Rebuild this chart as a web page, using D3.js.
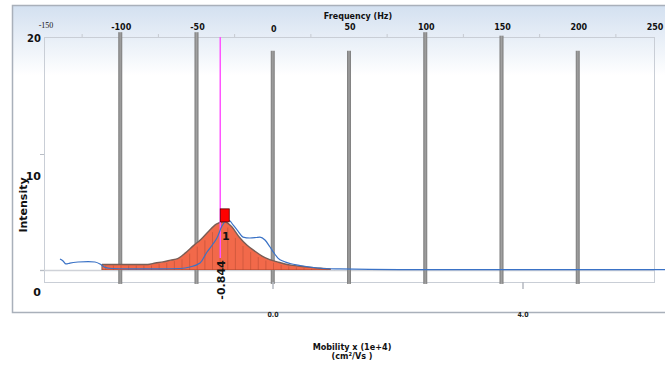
<!DOCTYPE html>
<html><head><meta charset="utf-8">
<script src="https://cdn.jsdelivr.net/npm/d3@7"></script>
<style>html,body{margin:0;padding:0;background:#fff;}svg{display:block;}</style>
</head><body>
<svg id="chart" width="665" height="367"></svg>
<script>
// ---- data ----
const freqTicks = [-150, -100, -50, 0, 50, 100, 150, 200, 250];
const freqMinorTicks = [-125, -75, -25, 25, 75, 125, 175, 225];
const intensityTicks = [0, 10, 20];
const mobilityTicks = [0.0, 4.0];
// gray frequency bars: position (Hz), top and bottom (intensity units)
const barFreq   = [-100, -50, 0, 50, 100, 150, 200];
const barTop    = [20.5, 20.5, 18.9, 18.9, 20.5, 20.2, 18.9];
const barBottom = [-1.2, -1.2, -1.2, -1.2, -1.2, -1.2, -1.2];
// blue measured trace (Hz, intensity)
const traceFreq = [-139.5,-137.5,-135.6,-133,-127.7,-121,-116.6,-113.3,-110,-105.4,-93.6,-74,-60.8,-54.3,-47.7,-43.1,-39.2,-36.6,-33.3,-30,-28,-26,-22.8,-19.5,-15,-11,-8.4,-5.1,-1.8,0.8,3.4,7.4,11.3,17.9,24.4,33,44,83,260];
const traceInt  = [0.95,0.78,0.52,0.6,0.69,0.73,0.69,0.52,0.22,0.13,0.09,0.09,0.13,0.26,0.6,1.55,2.24,2.76,3.79,4.31,4.22,3.88,3.36,2.84,2.76,2.8,2.84,2.59,1.98,1.47,1.03,0.73,0.56,0.39,0.26,0.13,0.09,0.04,0.04];
// orange fitted peak, histogram bins (Hz, intensity)
const fitFreq = [-112,-107,-102,-97,-92,-87,-82,-77,-72,-67,-62,-57,-52,-47,-42,-37,-32,-27,-22,-17,-12,-7,-2,3,8,13,18,23,28,33,38];
const fitInt  = [0.47,0.47,0.47,0.47,0.47,0.47,0.47,0.6,0.7,0.85,1.0,1.5,2.1,2.65,3.35,3.95,4.18,3.75,2.85,2.15,1.65,1.2,0.9,0.7,0.52,0.4,0.32,0.25,0.18,0.13,0.08];
// peak marker
const peakMobility = [-0.844];
const peakIntensity = [4.15];
const peakLabels = ["1"];
const peakValueLabels = ["-0.844"];

// ---- layout ----
const svg = d3.select("#chart");
const L = 44, R = 654, T = 37, B = 282;
const x = d3.scaleLinear().domain([-150, 250]).range([L, R]);
const y = d3.scaleLinear().domain([0, 20]).range([270, 38]);
const xm = d3.scaleLinear().domain([0, 4]).range([273, 523]);
const bold = "DejaVu Sans, Verdana, sans-serif";

// panel background
const defs = svg.append("defs");
const g = defs.append("linearGradient").attr("id","bg").attr("x1",0).attr("y1",0).attr("x2",0).attr("y2",1);
g.append("stop").attr("offset","0%").attr("stop-color","#d3e0f0");
g.append("stop").attr("offset","100%").attr("stop-color","#ffffff");
svg.append("rect").attr("x",12.5).attr("y",5.5).attr("width",680).attr("height",70)
  .attr("fill","url(#bg)");
svg.append("path").attr("d",`M700,5.5H12.5V312.5H700`).attr("fill","none").attr("stroke","#a9b0ba").attr("stroke-width",1.5);
defs.append("clipPath").attr("id","clipR").append("rect").attr("x",0).attr("y",0).attr("width",665).attr("height",367);

// plot frame
svg.append("rect").attr("x",L+0.5).attr("y",T+0.5).attr("width",R-L).attr("height",B-T)
  .attr("fill","none").attr("stroke","#c9ced6").attr("stroke-width",1);
// baseline at 0
svg.append("line").attr("x1",40).attr("x2",R).attr("y1",y(0)+0.5).attr("y2",y(0)+0.5)
  .attr("stroke","#cfd2d8").attr("stroke-width",1.5);
// y ticks
svg.selectAll(".ytk").data([0,10]).join("line")
  .attr("x1",40).attr("x2",L).attr("y1",d=>Math.round(y(d))+0.5).attr("y2",d=>Math.round(y(d))+0.5)
  .attr("stroke","#b8bdc5");
// y labels (offset as in the reference)
const yLabPos = {20: 42, 10: 180, 0: 296};
const yLabSize = {20: 10, 10: 11, 0: 11};
svg.selectAll(".ylab").data(intensityTicks).join("text")
  .attr("x",41).attr("y",d=>yLabPos[d]).attr("text-anchor","end")
  .attr("font-family",bold).attr("font-weight","bold").attr("font-size",d=>yLabSize[d]+"px").attr("fill","#111")
  .text(d=>d);
svg.append("text").attr("transform","translate(26.5,205) rotate(-90)").attr("text-anchor","middle")
  .attr("font-family",bold).attr("font-weight","bold").attr("font-size","11px").attr("fill","#111").text("Intensity");

// top frequency axis
svg.selectAll(".ftk").data(freqMinorTicks).join("line")
  .attr("x1",d=>x(d)).attr("x2",d=>x(d)).attr("y1",34).attr("y2",T)
  .attr("stroke","#c6cad1");
svg.selectAll(".flab").data(freqTicks).join("text")
  .attr("x",d=>x(d)+(d===-150?2:1)).attr("y",d=>d===0?32:d===-150?28:30).attr("text-anchor","middle")
  .attr("font-family",d=>d===-150?"Liberation Serif, serif":bold)
  .attr("font-weight",d=>d===-150?"normal":"bold")
  .attr("font-size",d=>d===-150?"8px":"8px").attr("fill","#111")
  .text(d=>d);
svg.append("text").attr("x",358).attr("y",19).attr("text-anchor","middle")
  .attr("font-family",bold).attr("font-weight","bold").attr("font-size","8px").attr("fill","#111")
  .text("Frequency (Hz)");

// gray bars
const bg = defs.append("linearGradient").attr("id","barg").attr("x1",0).attr("x2",1).attr("y1",0).attr("y2",0);
bg.append("stop").attr("offset","0%").attr("stop-color","#7a7a7a");
bg.append("stop").attr("offset","50%").attr("stop-color","#a0a0a0");
bg.append("stop").attr("offset","100%").attr("stop-color","#7a7a7a");
svg.selectAll(".bar").data(barFreq).join("rect")
  .attr("x",d=>x(d)-2).attr("width",4)
  .attr("y",(d,i)=>y(barTop[i])).attr("height",(d,i)=>y(barBottom[i])-y(barTop[i]))
  .attr("fill","url(#barg)");

// bottom mobility axis
svg.selectAll(".mtk").data(mobilityTicks).join("line")
  .attr("x1",d=>xm(d)).attr("x2",d=>xm(d)).attr("y1",B).attr("y2",B+7)
  .attr("stroke","#b5b9c0").attr("stroke-width",1.5);
svg.selectAll(".mlab").data(mobilityTicks).join("text")
  .attr("x",d=>xm(d)).attr("y",317).attr("text-anchor","middle")
  .attr("font-family","DejaVu Sans Condensed, DejaVu Sans, sans-serif").attr("font-weight","bold")
  .attr("font-size","7px").attr("fill","#222").text(d=>d.toFixed(1));
const mt = svg.append("text").attr("text-anchor","middle")
  .attr("font-family","DejaVu Sans Condensed, DejaVu Sans, sans-serif").attr("font-weight","bold")
  .attr("font-size","9px").attr("fill","#111");
mt.append("tspan").attr("x",352).attr("y",350).text("Mobility x (1e+4)");
mt.append("tspan").attr("x",352).attr("y",359).text("(cm²/Vs )");

// orange fitted peak
const area = d3.area().x((d,i)=>x(fitFreq[i])).y0(y(0)).y1((d,i)=>y(fitInt[i])).curve(d3.curveMonotoneX);
svg.append("path").datum(fitInt).attr("d",area).attr("fill","#f2694a");
svg.selectAll(".stripe").data(fitFreq).join("line")
  .attr("x1",d=>x(d)+3.8).attr("x2",d=>x(d)+3.8)
  .attr("y1",y(0)).attr("y2",(d,i)=>y(Math.min(fitInt[i], fitInt[Math.min(i+1,fitInt.length-1)]))+1)
  .attr("stroke","#a8452e").attr("stroke-opacity",0.55).attr("stroke-width",0.8);
const topLine = d3.line().x((d,i)=>x(fitFreq[i])).y((d,i)=>y(fitInt[i])).curve(d3.curveMonotoneX);
svg.append("path").datum(fitInt).attr("d",topLine).attr("fill","none")
  .attr("stroke","#7a5d55").attr("stroke-width",1.4);
svg.append("line").attr("x1",x(fitFreq[0])).attr("x2",x(fitFreq[0])).attr("y1",y(0)).attr("y2",y(fitInt[0]))
  .attr("stroke","#7a5d55").attr("stroke-width",1);
svg.append("line").attr("x1",x(fitFreq[0])).attr("x2",x(fitFreq[fitFreq.length-1])).attr("y1",y(0)-0.5).attr("y2",y(0)-0.5)
  .attr("stroke","#a8452e").attr("stroke-opacity",0.5).attr("stroke-width",1);

// magenta peak line
svg.append("line").attr("x1",xm(peakMobility[0])).attr("x2",xm(peakMobility[0])).attr("y1",T).attr("y2",258)
  .attr("stroke","#ff55ff").attr("stroke-width",1.5);

// blue trace
const line = d3.line().x((d,i)=>x(traceFreq[i])).y((d,i)=>y(traceInt[i])).curve(d3.curveMonotoneX);
svg.append("path").datum(traceInt).attr("d",line).attr("fill","none")
  .attr("stroke","#3a72c6").attr("stroke-width",1.2).attr("clip-path","url(#clipR)");

// marker
svg.selectAll(".mk").data(peakMobility).join("rect")
  .attr("x",d=>xm(d)).attr("y",(d,i)=>y(peakIntensity[i])-13).attr("width",9).attr("height",13)
  .attr("fill","#ff0000").attr("stroke","#5a0000").attr("stroke-width",0.8);
svg.selectAll(".mkl").data(peakMobility).join("text")
  .attr("x",d=>xm(d)+5.5).attr("y",(d,i)=>y(peakIntensity[i])+18).attr("text-anchor","middle")
  .attr("font-family",bold).attr("font-weight","bold").attr("font-size","11px").attr("fill","#111")
  .text((d,i)=>peakLabels[i]);
svg.selectAll(".mkv").data(peakMobility).join("text")
  .attr("transform",d=>`translate(${xm(d)+4.3},280) rotate(-90)`).attr("text-anchor","middle")
  .attr("font-family",bold).attr("font-weight","bold").attr("font-size","11px").attr("fill","#111")
  .text((d,i)=>peakValueLabels[i]);
</script>
</body></html>
